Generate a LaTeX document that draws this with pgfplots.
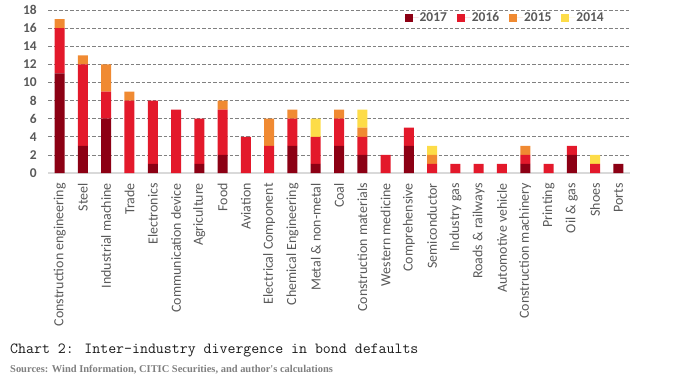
\documentclass[border=0pt]{standalone}
\usepackage{pgfplots}
\pgfplotsset{compat=1.18}
\usepackage{fontspec}
\setmainfont{Carlito}
\newfontfamily\srcfont{Liberation Serif}
\definecolor{cA}{HTML}{8C0014}
\definecolor{cB}{HTML}{E3192B}
\definecolor{cC}{HTML}{F08A32}
\definecolor{cD}{HTML}{FDDC48}
\definecolor{tickgray}{HTML}{595959}
\definecolor{gridgray}{HTML}{808080}
\definecolor{basegray}{HTML}{D9D9D9}
\begin{document}
\begin{tikzpicture}[x=1bp,y=1bp]
\useasboundingbox (0,0) rectangle (679,-381);
\begin{axis}[
  at={(48bp,-173bp)}, anchor=south west,
  scale only axis, width=582bp, height=163bp,
  ybar stacked, bar width=10bp,
  xmin=-0.5, xmax=24.5, ymin=0, ymax=18,
  ytick={0,2,...,18},
  xtick={0,...,24},
  xticklabels={Construction engineering,Steel,Industrial machine,Trade,Electronics,Communication device,Agriculture,Food,Aviation,Electrical Component,Chemical Engineering,Metal \& non-metal,Coal,Construction materials,Western medicine,Comprehensive,Semiconductor,Industry gas,Roads \& railways,Automotive vehicle,Construction machinery,Printing,Oil \& gas,Shoes,Ports},
  axis lines*=left,
  x axis line style={draw=basegray,line width=1.5bp},
  y axis line style={draw=none},
  major tick length=0pt,
  ymajorgrids,
  major grid style={draw=gridgray,line width=0.7bp,dash pattern=on 3.5bp off 2bp},
  /pgf/number format/assume math mode=true,
  xticklabel style={rotate=90,anchor=east,inner sep=0pt,font=\fontsize{14}{16}\selectfont,text=tickgray},
  xticklabel shift=10bp,
  yticklabel style={anchor=east,inner sep=0pt,font=\bfseries\fontsize{13.5}{16}\selectfont,text=tickgray},
  yticklabel shift=11bp,
  legend columns=4,
  legend style={at={(0.962,0.951)},anchor=east,draw=none,fill=none,
    font=\bfseries\fontsize{13.5}{16}\selectfont,text=tickgray,
    nodes={inner sep=1bp},
    /tikz/every even column/.append style={column sep=9bp}},
  legend image code/.code={\path (0bp,0bp) -- (14bp,0bp);\fill[#1] (0bp,-4bp) rectangle (8bp,4bp);},
  every axis plot/.append style={draw=none},
]
\addplot[fill=cA] coordinates {(0,11) (1,3) (2,6) (3,0) (4,1) (5,0) (6,1) (7,2) (8,0) (9,0) (10,3) (11,1) (12,3) (13,2) (14,0) (15,3) (16,0) (17,0) (18,0) (19,0) (20,1) (21,0) (22,2) (23,0) (24,1)};
\addplot[fill=cB] coordinates {(0,5) (1,9) (2,3) (3,8) (4,7) (5,7) (6,5) (7,5) (8,4) (9,3) (10,3) (11,3) (12,3) (13,2) (14,2) (15,2) (16,1) (17,1) (18,1) (19,1) (20,1) (21,1) (22,1) (23,1) (24,0)};
\addplot[fill=cC] coordinates {(0,1) (1,1) (2,3) (3,1) (4,0) (5,0) (6,0) (7,1) (8,0) (9,3) (10,1) (11,0) (12,1) (13,1) (14,0) (15,0) (16,1) (17,0) (18,0) (19,0) (20,1) (21,0) (22,0) (23,0) (24,0)};
\addplot[fill=cD] coordinates {(0,0) (1,0) (2,0) (3,0) (4,0) (5,0) (6,0) (7,0) (8,0) (9,0) (10,0) (11,2) (12,0) (13,2) (14,0) (15,0) (16,1) (17,0) (18,0) (19,0) (20,0) (21,0) (22,0) (23,1) (24,0)};
\legend{2017,2016,2015,2014}
\end{axis}
\node[anchor=base west,inner sep=0pt,text=black!90] at (10,-353) {\ttfamily\fontsize{15.5}{18}\selectfont Chart 2: Inter-industry divergence in bond defaults};
\node[anchor=base west,inner sep=0pt,text=gray] at (10,-372) {\srcfont\bfseries\fontsize{10.5}{12}\selectfont Sources: Wind Information, CITIC Securities, and author's calculations};
\end{tikzpicture}
\end{document}
